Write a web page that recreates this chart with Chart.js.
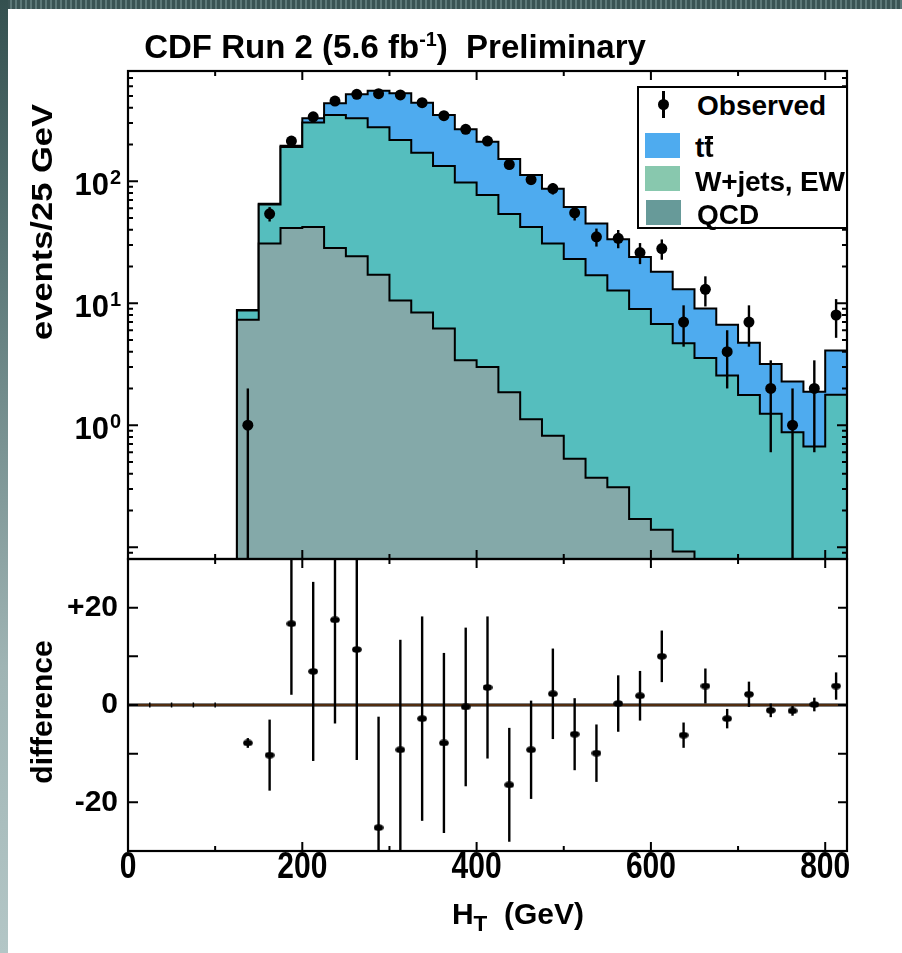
<!DOCTYPE html>
<html>
<head>
<meta charset="utf-8">
<script src="https://cdn.jsdelivr.net/npm/chart.js@4.4.1/dist/chart.umd.min.js"></script>
<style>
html,body{margin:0;padding:0;background:#fff;}
#wrap{position:relative;width:902px;height:953px;overflow:hidden;background:#fff;font-family:'Liberation Sans',Arial,Helvetica,sans-serif;}
#c{position:absolute;left:0;top:0;width:902px;height:953px;}
#topbar{position:absolute;left:0;top:0;width:902px;height:9px;background-color:#3a5454;
  background-image:repeating-linear-gradient(90deg,rgba(160,190,190,0.35) 0 2px,transparent 2px 5px);}
#leftbar{position:absolute;left:0;top:0;width:8px;height:953px;background:linear-gradient(to bottom,#34504f 0%,#5f7b7b 30%,#9fb4b4 70%,#b3c6c6 100%);}
.t{position:absolute;font-weight:bold;color:#000;white-space:nowrap;line-height:1;}
#title{left:395px;top:46px;font-size:33px;transform:translate(-50%,-50%);}
#title sup{font-size:0.6em;vertical-align:0.6em;line-height:0;}
#xtitle{left:518px;top:914px;font-size:30px;transform:translate(-50%,-50%);}
#xtitle sub{font-size:0.75em;vertical-align:-0.3em;line-height:0;}
#ytitle1{left:42px;top:222px;font-size:30px;transform:translate(-50%,-50%) rotate(-90deg) scaleX(1.15);}
#ytitle2{left:42px;top:712px;font-size:30px;transform:translate(-50%,-50%) rotate(-90deg);}
#legend{position:absolute;left:637px;top:86px;width:211px;height:143px;box-sizing:border-box;border:2px solid #000;background:#fff;}
.sw{position:absolute;width:35px;height:25px;}
.lt{position:absolute;font-weight:bold;font-size:28px;line-height:28px;color:#000;white-space:nowrap;}
.tbar{position:relative;display:inline-block;}
.tbar i{position:absolute;left:1px;width:8px;top:2px;height:2.5px;background:#000;}
</style>
</head>
<body>
<div id="wrap">
  <canvas id="c" width="902" height="953"></canvas>
  <div id="topbar"></div>
  <div id="leftbar"></div>
  <div class="t" id="title">CDF Run 2 (5.6 fb<sup>-1</sup>)&nbsp; Preliminary</div>
  <div class="t" id="xtitle">H<sub>T</sub>&nbsp; (GeV)</div>
  <div class="t" id="ytitle1">events/25 GeV</div>
  <div class="t" id="ytitle2">difference</div>
  <div id="legend">
    <div style="position:absolute;left:23px;top:3px;width:2.5px;height:27px;background:#000;"></div>
    <div style="position:absolute;left:18.5px;top:11px;width:11px;height:11px;border-radius:50%;background:#000;"></div>
    <div class="lt" style="left:58px;top:4px;">Observed</div>
    <div class="sw" style="left:6px;top:45px;background:#4eabef;"></div>
    <div class="lt" style="left:56px;top:46px;">t<span class="tbar">t<i></i></span></div>
    <div class="sw" style="left:6px;top:78px;background:#88c8ae;"></div>
    <div class="lt" style="left:56px;top:80px;letter-spacing:-0.2px;">W+jets, EW</div>
    <div class="sw" style="left:7px;top:112px;background:#679a99;"></div>
    <div class="lt" style="left:58px;top:113px;">QCD</div>
  </div>
</div>
<script>
// ---------------- data ----------------
const binLow = [125,150,175,200,225,250,275,300,325,350,375,400,425,450,475,500,525,550,575,600,625,650,675,700,725,750,775,800];
const binWidth = 25;
const qcd   = [7.3,30.8,41.3,42.2,28.3,24.2,17.1,10.5,8.4,6.2,3.4,3.0,1.86,1.12,0.82,0.53,0.37,0.31,0.17,0.139,0.092,0.06,0.05,0.04,0.03,0.025,0.02,0.03];
const wjets = [1.4,33.6,149,261,320,303,259,207,163,127,94,74,52,41,30,22.5,16.6,12.4,8.8,6.6,4.6,3.5,2.5,1.73,1.21,0.85,0.65,1.75];
const ttbar = [0.1,0.8,5,24,87,188,276,308,269,215,169,133,98,70,56,38.5,28,20.7,14.9,11.4,8.3,5.5,4.1,2.96,1.94,1.41,1.21,2.31];
const observed   = [1,54,213,337,454,515,521,509,440,344,266,213,137,103,87,55,35,34,26,28,7,13,4,7,2,1,2,8];
const obsErr     = [1.0,7.3,14.6,18.4,21.3,22.7,22.8,22.6,21.0,18.5,16.3,14.6,11.7,10.1,9.3,7.4,5.9,5.8,5.1,5.3,2.6,3.6,2.0,2.6,1.4,1.0,1.4,2.8];
const difference = [-7.8,-10.3,16.7,6.9,17.5,11.4,-25.2,-9.2,-2.8,-7.8,-0.4,3.6,-16.4,-9.2,2.3,-6.0,-9.9,0.3,1.9,10.0,-6.2,3.9,-2.8,2.2,-1.1,-1.2,0.1,3.9];
const diffErr    = [1.0,7.3,14.6,18.4,21.3,22.7,22.8,22.6,21.0,18.5,16.3,14.6,11.7,10.1,9.3,7.4,5.9,5.8,5.1,5.3,2.6,3.6,2.0,2.6,1.4,1.0,1.4,2.8];
const emptyBinEdges = [25,50,75,100];
const xTicks = [0,200,400,600,800];
const logTicks = [1,10,100];
const logTickBase = '10';
const logTickExponents = ['0','1','2'];
const diffTicks = [-20,0,20];
const diffTickLabels = ['-20','0','+20'];
const emptyLevel = 1e-4;

// ---------------- derived ----------------
const lvlQCD = qcd.slice();
const lvlW = qcd.map((v,i)=>v+wjets[i]);
const lvlTot = lvlW.map((v,i)=>v+ttbar[i]);
const centers = binLow.map(b=>b+binWidth/2);
function histPoints(levels){
  const pts=[{x:binLow[0],y:emptyLevel}];
  levels.forEach((v,i)=>pts.push({x:binLow[i],y:v}));
  pts.push({x:binLow[binLow.length-1]+binWidth,y:levels[levels.length-1]});
  return pts;
}
const FONT = "'Liberation Sans', Arial, Helvetica, sans-serif";
const X_STRETCH = 1.2;

// ellipse marker for the difference panel
const ell = document.createElement('canvas');
ell.width = 10; ell.height = 7;
(function(){const c=ell.getContext('2d');c.fillStyle='#000';c.beginPath();c.ellipse(5,3.5,4.8,3.2,0,0,Math.PI*2);c.fill();})();

const panelPlugin = {
  id:'panels',
  beforeDraw(chart){
    const s = chart.scales.x;
    if (s && !s.__wrapped){
      const orig = s.drawLabels;
      s.drawLabels = function(area){
        const c=this.ctx, y0=this.top;
        c.save(); c.translate(0,y0); c.scale(1,X_STRETCH); c.translate(0,-y0);
        orig.call(this,area);
        c.restore();
      };
      s.__wrapped = true;
    }
    const ly = chart.scales.y;
    if (ly && !ly.__wrapped){
      ly.drawLabels = function(){
        const c=this.ctx;
        c.save(); c.fillStyle='#000'; c.textAlign='right'; c.textBaseline='alphabetic';
        this.ticks.forEach(t=>{
          const i = logTicks.indexOf(t.value); if(i<0) return;
          const py = this.getPixelForValue(t.value);
          const right = this.right - 7;
          c.font = 'bold 20px ' + FONT;
          const ew = c.measureText(logTickExponents[i]).width;
          c.fillText(logTickExponents[i], right, py + 3);
          c.font = 'bold 31px ' + FONT;
          c.fillText(logTickBase, right - ew - 1, py + 14);
        });
        c.restore();
      };
      ly.__wrapped = true;
    }
  },
  beforeDatasetsDraw(chart){
    const {ctx} = chart; const x=chart.scales.x, yd=chart.scales.yd;
    const y0 = yd.getPixelForValue(0);
    ctx.save();
    ctx.strokeStyle='#000'; ctx.lineWidth=3;
    ctx.beginPath(); ctx.moveTo(x.left,y0); ctx.lineTo(x.right,y0); ctx.stroke();
    ctx.strokeStyle='#a0581e'; ctx.lineWidth=1.2;
    ctx.beginPath(); ctx.moveTo(x.left,y0); ctx.lineTo(x.right,y0); ctx.stroke();
    ctx.strokeStyle='#000'; ctx.lineWidth=1.5;
    ctx.beginPath();
    emptyBinEdges.forEach(e=>{const px=x.getPixelForValue(e); ctx.moveTo(px,y0-2.5); ctx.lineTo(px,y0+2.5);});
    ctx.stroke();
    ctx.restore();
  },
  afterDatasetsDraw(chart){
    const {ctx} = chart; const x=chart.scales.x, y=chart.scales.y, yd=chart.scales.yd;
    ctx.save();
    ctx.strokeStyle='#000'; ctx.lineWidth=2.4;
    ctx.beginPath(); ctx.rect(x.left,y.top,x.right-x.left,y.bottom-y.top); ctx.clip();
    observed.forEach((n,i)=>{
      const cx=x.getPixelForValue(centers[i]);
      const hi=y.getPixelForValue(n+obsErr[i]);
      const lo=(n-obsErr[i])>0 ? y.getPixelForValue(n-obsErr[i]) : y.bottom+2;
      ctx.beginPath(); ctx.moveTo(cx,hi); ctx.lineTo(cx,lo); ctx.stroke();
    });
    ctx.restore();
    ctx.save();
    ctx.strokeStyle='#000'; ctx.lineWidth=2.4;
    ctx.beginPath(); ctx.rect(x.left,yd.top,x.right-x.left,yd.bottom-yd.top); ctx.clip();
    difference.forEach((d,i)=>{
      const cx=x.getPixelForValue(centers[i]);
      ctx.beginPath(); ctx.moveTo(cx,yd.getPixelForValue(d+diffErr[i])); ctx.lineTo(cx,yd.getPixelForValue(d-diffErr[i])); ctx.stroke();
    });
    ctx.restore();
  },
  afterDraw(chart){
    const {ctx} = chart; const x=chart.scales.x, y=chart.scales.y, yd=chart.scales.yd;
    const L=x.left, R=x.right;
    ctx.save();
    ctx.strokeStyle='#000'; ctx.lineWidth=2;
    ctx.beginPath();
    [[y.top,y.bottom],[yd.top,yd.bottom]].forEach(([t,b])=>{
      for(let v=100; v<=800; v+=100){
        const px=x.getPixelForValue(v); const len=(v%200===0)?9:5;
        ctx.moveTo(px,t); ctx.lineTo(px,t+len);
        ctx.moveTo(px,b); ctx.lineTo(px,b-len);
      }
    });
    for(let d=-2; d<=3; d++){
      for(let m=1; m<=9; m++){
        const v=m*Math.pow(10,d);
        if(v<y.min*0.999 || v>y.max*1.001) continue;
        const py=y.getPixelForValue(v); const len=(m===1)?10:5;
        ctx.moveTo(L,py); ctx.lineTo(L+len,py);
        ctx.moveTo(R,py); ctx.lineTo(R-len,py);
      }
    }
    for(let v=-20; v<=20; v+=10){
      const py=yd.getPixelForValue(v);
      ctx.moveTo(L,py); ctx.lineTo(L+10,py);
      ctx.moveTo(R,py); ctx.lineTo(R-9,py);
    }
    ctx.stroke();
    ctx.lineWidth=2.2;
    ctx.strokeRect(L,y.top,R-L,y.bottom-y.top);
    ctx.strokeRect(L,yd.top,R-L,yd.bottom-yd.top);
    ctx.restore();
  }
};

const tickFont = {family:FONT,size:30,weight:'bold',lineHeight:1};

new Chart(document.getElementById('c'), {
  type:'line',
  data:{datasets:[
    {label:'tt', data:histPoints(lvlTot), yAxisID:'y', stepped:'before', borderColor:'#000', borderWidth:2,
     backgroundColor:'#4eabef', fill:{target:'start',above:'#4eabef',below:'rgba(0,0,0,0)'}, pointRadius:0, order:5},
    {label:'W+jets, EW', data:histPoints(lvlW), yAxisID:'y', stepped:'before', borderColor:'#000', borderWidth:2,
     backgroundColor:'#55bebe', fill:{target:'start',above:'#55bebe',below:'rgba(0,0,0,0)'}, pointRadius:0, order:4},
    {label:'QCD', data:histPoints(lvlQCD), yAxisID:'y', stepped:'before', borderColor:'#000', borderWidth:2,
     backgroundColor:'#84a9a9', fill:{target:'start',above:'#84a9a9',below:'rgba(0,0,0,0)'}, pointRadius:0, order:3},
    {label:'Observed', data:centers.map((c,i)=>({x:c,y:observed[i]})), yAxisID:'y', showLine:false,
     pointRadius:5.5, pointBackgroundColor:'#000', pointBorderWidth:0, order:1},
    {label:'difference', data:centers.map((c,i)=>({x:c,y:difference[i]})), yAxisID:'yd', showLine:false,
     pointStyle:ell, pointRadius:5, order:1}
  ]},
  options:{
    responsive:false, animation:false, devicePixelRatio:1,
    layout:{padding:{left:0,right:55,top:71,bottom:0}},
    plugins:{legend:{display:false},tooltip:{enabled:false},title:{display:false}},
    events:[],
    scales:{
      x:{type:'linear',min:0,max:825,position:'bottom',
         grid:{display:false,drawTicks:false}, border:{display:false},
         afterBuildTicks:s=>{s.ticks=xTicks.map(v=>({value:v}));},
         afterFit:s=>{s.height=102;},
         ticks:{font:tickFont,color:'#000',padding:-1,maxRotation:0,autoSkip:false,callback:v=>String(v)}},
      yd:{type:'linear',min:-30,max:30,position:'left',stack:'panels',stackWeight:292,
         grid:{display:false,drawTicks:false}, border:{display:false},
         afterBuildTicks:s=>{s.ticks=diffTicks.map(v=>({value:v}));},
         afterFit:s=>{s.width=128;},
         ticks:{font:tickFont,color:'#000',padding:10,autoSkip:false,callback:v=>diffTickLabels[diffTicks.indexOf(v)]}},
      y:{type:'logarithmic',min:0.08,max:800,position:'left',stack:'panels',stackWeight:488,
         grid:{display:false,drawTicks:false}, border:{display:false},
         afterBuildTicks:s=>{s.ticks=logTicks.map(v=>({value:v}));},
         afterFit:s=>{s.width=128;},
         ticks:{font:tickFont,color:'#000',padding:8,autoSkip:false,
                callback:v=>logTickBase+logTickExponents[logTicks.indexOf(v)]}}
    }
  },
  plugins:[panelPlugin]
});
</script>
</body>
</html>
